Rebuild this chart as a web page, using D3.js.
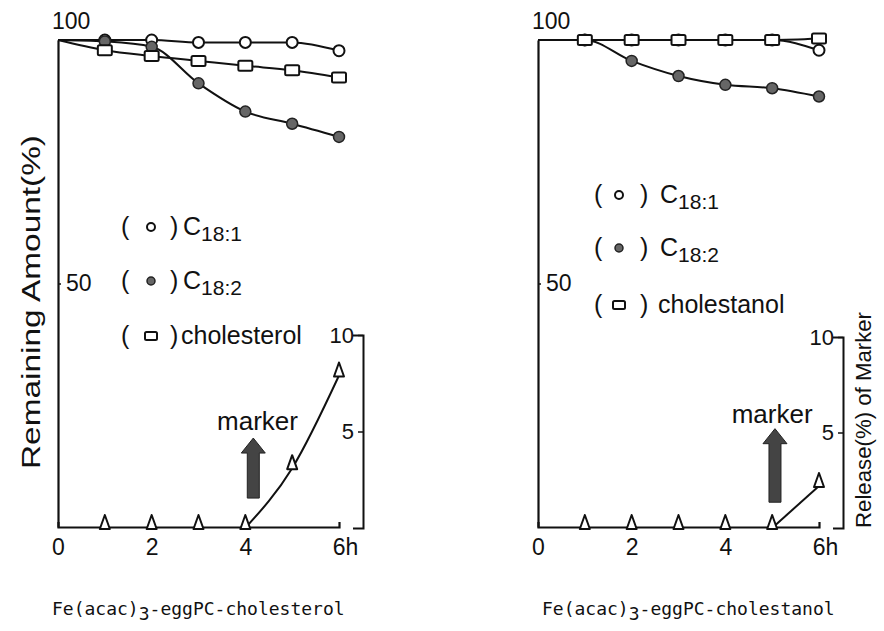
<!DOCTYPE html>
<html lang="en">
<head>
<meta charset="utf-8">
<title>Remaining amount and marker release</title>
<script src="https://cdn.jsdelivr.net/npm/d3@7"></script>
<style>
  body { margin: 0; background: #fff; }
  svg text { font-family: "Liberation Sans", Arial, sans-serif; fill: #111; }
  svg .title { font-family: "DejaVu Sans Mono", monospace; }
</style>
</head>
<body>
<script>
var w = 884, h = 631;

// sampling times (h)
var hours = [0, 1, 2, 3, 4, 5, 6];
var markerHours = [1, 2, 3, 4, 5, 6];
var xTicks = [0, 2, 4, 6];
var yTicks = [50];
var releaseTicks = [5, 10];

// Fe(acac)3-eggPC-cholesterol, remaining amount (%)
var c181Chol = [100, 100, 100, 99.5, 99.5, 99.5, 97.8];
var c182Chol = [100, 99.7, 98.6, 91.1, 85.3, 82.8, 80.1];
var cholesterol = [100, 97.9, 96.7, 95.7, 94.7, 93.8, 92.3];
var markerChol = [0, 0, 0, 0, 3.1, 7.9];   // release (%) of marker

// Fe(acac)3-eggPC-cholestanol
var c181Stan = [100, 100, 100, 100, 100, 100, 97.9];
var c182Stan = [100, 100, 95.7, 92.6, 90.8, 90.1, 88.4];
var cholestanol = [100, 100, 100, 100, 100, 100, 100.3];
var markerStan = [0, 0, 0, 0, 0, 2.2];

var legendChol = ["C18:1", "C18:2", "cholesterol"];
var legendStan = ["C18:1", "C18:2", "cholestanol"];

var svg = d3.select("body").append("svg")
    .attr("width", w)
    .attr("height", h);

var panels = [
  { x0: 58, x1: 339, yTop: 40, yBot: 527, y2x: 363, y2Top: 335,
    series: [c181Chol, c182Chol, cholesterol], marker: markerChol, legend: legendChol,
    legX: 121, legRows: [227, 281, 336], sym: 30, close: 49, lbl: [62, 60],
    arrow: [4.17, 4.66, 1.55], markerLbl: [4.26, 5.1],
    yLabel: true, title: ["Fe(acac)", "3", "-eggPC-cholesterol"], titleX: 52 },
  { x0: 538, x1: 819, yTop: 40, yBot: 527, y2x: 843, y2Top: 337,
    series: [c181Stan, c182Stan, cholestanol], marker: markerStan, legend: legendStan,
    legX: 594, legRows: [195, 248, 305], sym: 25, close: 46, lbl: [66, 64],
    arrow: [5.06, 5.2, 1.35], markerLbl: [5.0, 5.5],
    yLabel: false, title: ["Fe(acac)", "3", "-eggPC-cholestanol"], titleX: 542 }
];

function drawSymbol(g, kind, x, y, big) {
  var r = big ? 5.5 : 4;
  if (kind === 0) {
    g.append("circle").attr("cx", x).attr("cy", y).attr("r", r)
      .attr("fill", "#fff").attr("stroke", "#111").attr("stroke-width", 2);
  } else if (kind === 1) {
    g.append("circle").attr("cx", x).attr("cy", y).attr("r", r)
      .attr("fill", "#666").attr("stroke", "#222").attr("stroke-width", 1.5);
  } else {
    var sw = big ? 14 : 12, sh = big ? 10 : 8;
    g.append("rect").attr("x", x - sw / 2).attr("y", y - sh / 2)
      .attr("width", sw).attr("height", sh).attr("rx", 1.5)
      .attr("fill", "#fff").attr("stroke", "#111").attr("stroke-width", 2);
  }
}

panels.forEach(function(p) {
  var g = svg.append("g");

  var xScale = d3.scaleLinear().domain([0, 6]).range([p.x0, p.x1]);
  var yScale = d3.scaleLinear().domain([0, 100]).range([p.yBot, p.yTop]);
  var y2Scale = d3.scaleLinear().domain([0, 10]).range([528, p.y2Top]);

  // x axis
  var xAxis = g.append("g")
    .attr("transform", "translate(0," + p.yBot + ")")
    .call(d3.axisBottom(xScale).tickValues(xTicks).tickSize(0).tickSizeOuter(-5).tickPadding(12)
      .tickFormat(function(d) { return d === 6 ? "6h" : d; }));
  xAxis.select(".domain").attr("stroke", "#111").attr("stroke-width", 2.2);
  xAxis.selectAll("text").attr("font-size", 23).attr("dx", function(d) { return d === 6 ? 6 : 0; });

  // y axis, ticks inside
  var yAxis = g.append("g")
    .attr("transform", "translate(" + p.x0 + ",0)")
    .call(d3.axisRight(yScale).tickValues(yTicks).tickSize(3).tickSizeOuter(0).tickPadding(5));
  yAxis.select(".domain").attr("stroke", "#111").attr("stroke-width", 2.2);
  yAxis.selectAll(".tick line").attr("stroke", "#111").attr("stroke-width", 1.5);
  yAxis.selectAll("text").attr("font-size", 23);
  g.append("text").attr("x", p.x0 - 6).attr("y", yScale(100) - 11)
    .attr("font-size", 23).text("100");

  // release axis
  var y2Axis = g.append("g")
    .attr("transform", "translate(" + p.y2x + ",0)")
    .call(d3.axisLeft(y2Scale).tickValues(releaseTicks).tickSize(5).tickSizeOuter(10).tickPadding(4));
  y2Axis.select(".domain").attr("stroke", "#111").attr("stroke-width", 2);
  y2Axis.selectAll(".tick line").attr("stroke", "#111").attr("stroke-width", 1.5);
  y2Axis.selectAll("text").attr("font-size", 22);

  // lines
  var line = d3.line()
    .x(function(d) { return xScale(d[0]); })
    .y(function(d) { return yScale(d[1]); })
    .curve(d3.curveMonotoneX);
  p.series.forEach(function(s) {
    g.append("path")
      .attr("d", line(d3.zip(hours, s)))
      .attr("fill", "none").attr("stroke", "#111").attr("stroke-width", 2);
  });

  // marker release line from last zero point
  var pts = d3.zip(markerHours, p.marker);
  var first = p.marker.findIndex(function(v) { return v > 0; });
  var line2 = d3.line()
    .x(function(d) { return xScale(d[0]); })
    .y(function(d) { return y2Scale(d[1]); })
    .curve(d3.curveMonotoneX);
  g.append("path")
    .attr("d", line2(pts.slice(first - 1)))
    .attr("fill", "none").attr("stroke", "#111").attr("stroke-width", 2);

  // points
  p.series.forEach(function(s, k) {
    hours.forEach(function(t, i) {
      if (t === 0) return;
      drawSymbol(g, k, xScale(t), yScale(s[i]), true);
    });
  });
  pts.forEach(function(d) {
    var x = xScale(d[0]), y = y2Scale(d[1]);
    g.append("path")
      .attr("d", "M" + x + "," + (y - 13) + "L" + (x - 5) + "," + (y + 1) + "L" + (x + 5) + "," + (y + 1) + "Z")
      .attr("fill", "#fff").attr("stroke", "#111").attr("stroke-width", 2).attr("stroke-linejoin", "round");
  });

  // arrow
  var ax = xScale(p.arrow[0]), tip = y2Scale(p.arrow[1]), base = y2Scale(p.arrow[2]);
  g.append("path")
    .attr("d", "M" + ax + "," + tip + "L" + (ax + 12) + "," + (tip + 15) + "L" + (ax + 6) + "," + (tip + 15) +
      "L" + (ax + 6) + "," + base + "L" + (ax - 6) + "," + base + "L" + (ax - 6) + "," + (tip + 15) +
      "L" + (ax - 12) + "," + (tip + 15) + "Z")
    .attr("fill", "#444").attr("stroke", "#222").attr("stroke-width", 1);
  g.append("text").attr("x", xScale(p.markerLbl[0])).attr("y", y2Scale(p.markerLbl[1]))
    .attr("text-anchor", "middle").attr("font-size", 26).text("marker");

  // legend
  p.legend.forEach(function(lbl, k) {
    var y = p.legRows[k];
    g.append("text").attr("x", p.legX).attr("y", y + 8).attr("font-size", 25).text("(");
    drawSymbol(g, k, p.legX + p.sym, y, false);
    g.append("text").attr("x", p.legX + p.close).attr("y", y + 8).attr("font-size", 25).text(")");
    var t = g.append("text").attr("x", p.legX + (k < 2 ? p.lbl[0] : p.lbl[1])).attr("y", y + 8).attr("font-size", 25);
    if (k < 2) {
      t.append("tspan").text(lbl.charAt(0));
      t.append("tspan").attr("dy", 6).attr("font-size", 21).text(lbl.slice(1));
    } else {
      t.text(lbl);
    }
  });

  // axis titles
  if (p.yLabel) {
    g.append("text")
      .attr("transform", "translate(40,302) rotate(-90)")
      .attr("text-anchor", "middle").attr("font-size", 25)
      .attr("textLength", 334).attr("lengthAdjust", "spacingAndGlyphs")
      .text("Remaining Amount(%)");
  } else {
    g.append("text")
      .attr("transform", "translate(871,420) rotate(-90)")
      .attr("text-anchor", "middle").attr("font-size", 22)
      .attr("textLength", 216).attr("lengthAdjust", "spacingAndGlyphs")
      .text("Release(%) of Marker");
  }

  var tt = g.append("text").attr("class", "title")
    .attr("x", p.titleX).attr("y", 615).attr("font-size", 18);
  tt.append("tspan").text(p.title[0]);
  tt.append("tspan").attr("dy", 5).text(p.title[1]);
  tt.append("tspan").attr("dy", -5).text(p.title[2]);
});
</script>
</body>
</html>
